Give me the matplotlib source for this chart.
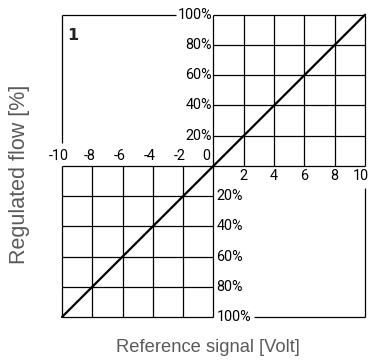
import matplotlib
matplotlib.use("Agg")
import matplotlib.pyplot as plt

# Characteristic: reference signal (V) vs regulated flow (%)
signal = [-10, 10]
flow = [-100, 100]

pos_volts = [2, 4, 6, 8, 10]
neg_volts = [-10, -8, -6, -4, -2]
pos_flow = [20, 40, 60, 80, 100]
neg_flow = [-20, -40, -60, -80, -100]

W, H, DPI = 370, 360, 100
fig = plt.figure(figsize=(W / DPI, H / DPI), dpi=DPI)
fig.patch.set_facecolor("white")

x0, x1 = 62, 365
ytop, ybot = 14.7, 317
ax = fig.add_axes([x0 / W, (H - ybot) / H, (x1 - x0) / W, (ybot - ytop) / H])
ax.set_xlim(-10, 10)
ax.set_ylim(-100, 100)
ax.axis("off")

tick_font = dict(family=["Roboto", "DejaVu Sans"], fontweight="normal", fontsize=10.4, color="black")
lw = 0.9
kw = dict(color="black", lw=lw, clip_on=False, solid_capstyle="butt")

# Grid in the upper-right quadrant
for v in [0] + pos_volts:
    ax.plot([v, v], [0, 100], **kw)
for f in [0] + pos_flow:
    ax.plot([0, 10], [f, f], **kw)

# Grid in the lower-left quadrant
for v in neg_volts + [0]:
    ax.plot([v, v], [-100, 0], **kw)
for f in neg_flow + [0]:
    ax.plot([-10, 0], [f, f], **kw)

# Open frame corners
ax.plot([-10, -10], [15, 100], **kw)
ax.plot([-10, -2.5], [100, 100], **kw)
ax.plot([10, 10], [-100, -14.5], **kw)
ax.plot([2.65, 10], [-100, -100], **kw)

# Characteristic line
ax.plot(signal, flow, color="black", lw=1.6, clip_on=False, solid_capstyle="round")

# Tick labels
for v in neg_volts:
    ax.text(v - 0.2, 2.0, f"-{abs(v)}", ha="center", va="bottom", **tick_font)
ax.text(-0.45, 2.0, "0", ha="center", va="bottom", **tick_font)
for v in pos_volts:
    xv = v - 0.3 if v == 10 else v
    ax.text(xv, -2.0, str(v), ha="center", va="top", **tick_font)
for f in pos_flow:
    ax.text(-0.1, f, f"{f}%", ha="right", va="center", **tick_font)
for f in neg_flow:
    ax.text(0.2, f, f"{abs(f)}%", ha="left", va="center", **tick_font)

ax.text(-9.3, 86, "1", ha="center", va="center", fontsize=11.5, fontweight="bold",
        family=["DejaVu Sans"], color="#222222")

label_font = dict(family=["Liberation Sans", "DejaVu Sans"], fontsize=12, color="#5a5a5a")
xl = fig.text(208 / W, 1 - 347 / H, "Reference signal [Volt]", ha="center", va="center", **label_font)
yl = fig.text(20 / W, 1 - 174 / H, "Regulated flow [%]", ha="center", va="center", rotation=90, **label_font)

# Size the axis titles to their intended spans
renderer = fig.canvas.get_renderer()
for t, span, use_h in ((xl, 184, False), (yl, 180, True)):
    bb = t.get_window_extent(renderer)
    cur = bb.height if use_h else bb.width
    t.set_fontsize(t.get_fontsize() * span / cur)

fig.savefig("out.png", dpi=DPI, facecolor="white")
